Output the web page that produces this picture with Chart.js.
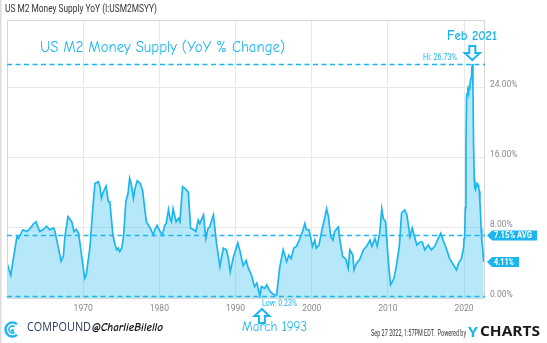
<!DOCTYPE html>
<html>
<head>
<meta charset="utf-8">
<script src="https://cdn.jsdelivr.net/npm/chart.js@4.4.1/dist/chart.umd.min.js"></script>
<style>
html, body { margin: 0; padding: 0; background: #fff; }
#wrap { position: relative; width: 547px; height: 343px; }
</style>
</head>
<body>
<div id="wrap"><canvas id="c"></canvas></div>
<script>
// decimal year of each observation
const dates = [
    1960.0, 1960.5, 1960.8, 1961.3, 1961.5, 1961.8, 1962.1, 1962.6, 1963.0, 1963.5, 1963.8, 1964.3, 1964.8, 1965.2,
    1965.6, 1966.1, 1966.3, 1966.7, 1967.1, 1967.4, 1967.6, 1968.0, 1968.5, 1968.8, 1969.1, 1969.4, 1969.8,
    1970.2, 1970.4, 1970.9, 1971.25, 1971.55, 1972.0, 1972.2, 1972.4, 1972.6, 1973.0, 1973.3, 1973.5, 1973.9, 1974.2,
    1974.4, 1974.6, 1974.8, 1975.05, 1975.3, 1975.6, 1975.9, 1976.1, 1976.3, 1976.6, 1976.8, 1977.1, 1977.5, 1977.8,
    1978.1, 1978.3, 1978.8, 1979.2, 1979.4, 1979.7,
    1980.1, 1980.4, 1980.7, 1980.9, 1981.2, 1981.4, 1981.6, 1981.8, 1982.2, 1982.5, 1982.7, 1983.05, 1983.4, 1983.8,
    1984.1, 1984.5, 1984.8, 1985.1, 1985.3, 1985.8, 1986.1, 1986.4, 1986.6, 1987.1, 1987.5, 1987.95, 1988.4, 1988.8,
    1989.05, 1989.3, 1989.7,
    1990.3, 1990.6, 1991.0, 1991.4, 1991.7, 1992.1, 1992.5, 1992.8, 1993.2, 1993.4, 1993.85, 1994.1, 1994.4, 1994.7,
    1995.0, 1995.4, 1995.6, 1995.8, 1996.25, 1996.4, 1996.7, 1997.0, 1997.3, 1997.65, 1998.0, 1998.45, 1998.8, 1999.1,
    1999.3, 1999.65,
    2000.1, 2000.4, 2000.6, 2000.95, 2001.3, 2001.7, 2001.95, 2002.2, 2002.5, 2002.8, 2003.0, 2003.5, 2003.7, 2004.05,
    2004.5, 2004.8, 2005.0, 2005.4, 2005.55, 2005.9, 2006.3, 2006.8, 2007.2, 2007.65, 2007.9, 2008.3, 2008.6, 2008.95,
    2009.2, 2009.4, 2009.7,
    2010.05, 2010.35, 2010.8, 2011.1, 2011.5, 2011.8, 2012.2, 2012.5, 2012.9, 2013.2, 2013.5, 2013.8, 2014.2, 2014.5,
    2014.85, 2015.3, 2015.7, 2016.15, 2016.6, 2016.95, 2017.25, 2017.7, 2018.1, 2018.6, 2019.0, 2019.3, 2019.65, 2019.95,
    2020.0, 2020.083, 2020.167, 2020.25, 2020.333, 2020.417, 2020.5, 2020.583, 2020.667, 2020.75, 2020.833, 2020.917,
    2021.0, 2021.083, 2021.167, 2021.25, 2021.333, 2021.417, 2021.5, 2021.583, 2021.667, 2021.75, 2021.833, 2021.917,
    2022.0, 2022.083, 2022.167, 2022.25, 2022.333, 2022.417, 2022.5, 2022.583,
];
// M2 year over year change, %
const yoy = [
    4.0, 2.6, 4.3, 7.0, 6.8, 7.3, 7.8, 7.6, 7.9, 8.5, 8.7, 7.6, 7.85, 8.2,
    7.8, 8.0, 7.6, 5.9, 4.2, 4.8, 7.0, 9.3, 8.7, 7.6, 7.85, 7.4, 4.8,
    2.25, 2.6, 5.9, 10.1, 13.1, 13.3, 12.7, 11.4, 12.0, 12.8, 11.0, 11.0, 7.2, 6.05,
    5.5, 5.7, 5.3, 5.7, 7.0, 11.0, 12.0, 13.7, 13.1, 11.4, 12.5, 13.4, 13.1, 12.3,
    10.1, 8.7, 8.0, 7.2, 7.8, 8.3,
    7.6, 7.2, 8.3, 8.5, 10.1, 9.1, 8.7, 10.2, 8.7, 9.1, 8.7, 12.7, 12.5, 12.1,
    8.0, 7.8, 7.6, 8.9, 8.5, 9.5, 6.8, 8.0, 8.1, 9.5, 6.3, 3.6, 5.7, 5.5,
    4.6, 3.0, 4.6,
    6.3, 5.3, 3.7, 4.3, 3.35, 2.6, 1.3, 1.7, 0.23, 1.3, 1.1, 1.5, 0.95, 0.6,
    0.4, 0.35, 1.9, 3.5, 5.5, 5.1, 4.15, 4.9, 4.5, 5.7, 5.9, 6.8, 7.6, 8.5,
    7.8, 7.8,
    5.9, 6.6, 5.7, 6.05, 7.6, 9.1, 10.2, 9.3, 7.0, 6.6, 7.6, 8.1, 6.6, 4.8,
    4.4, 3.4, 5.5, 4.9, 3.2, 4.0, 4.4, 5.5, 5.9, 6.6, 5.9, 6.8, 5.9, 7.6,
    10.2, 9.1, 8.7,
    4.3, 1.5, 2.25, 3.6, 5.9, 9.7, 10.06, 9.5, 7.0, 8.0, 7.0, 6.05, 6.4, 6.4,
    5.5, 6.05, 5.5, 5.9, 6.8, 7.4, 6.6, 5.6, 4.5, 3.8, 3.2, 4.0, 4.5, 5.8,
    6.8, 7.0, 10.3, 17.4, 23.1, 23.4, 23.6, 23.3, 24.1, 24.0, 24.8, 25.2,
    26.0, 26.73, 24.3, 17.5, 13.6, 12.6, 12.4, 12.8, 13.1, 13.1, 12.9, 12.6,
    12.2, 11.0, 9.6, 7.9, 6.4, 5.9, 5.1, 4.11,
];
const yTicks = [0, 8, 16, 24];
const xTicks = [1970, 1980, 1990, 2000, 2010, 2020];

const hiValue = 26.73, hiDate = 2021.083;
const lowValue = 0.23, lowDate = 1993.2;
const avgValue = 7.15;
const lastValue = yoy[yoy.length - 1];

const cyan = '#1cb6ee';
const hand = '"Comic Sans MS", "Comic Neue", "Open Sans", sans-serif';

function fitText(ctx, text, x, y, w, font, color) {
    ctx.save();
    ctx.font = font;
    ctx.fillStyle = color;
    ctx.textBaseline = 'middle';
    ctx.textAlign = 'left';
    const m = ctx.measureText(text).width;
    ctx.translate(x, y);
    ctx.scale(w / m, 1);
    ctx.fillText(text, 0, 0);
    ctx.restore();
}

function tag(ctx, x, y, w, h, text, textW) {
    ctx.save();
    ctx.fillStyle = cyan;
    ctx.beginPath();
    ctx.moveTo(x, y);
    ctx.lineTo(x + 5, y - h / 2);
    ctx.lineTo(x + w, y - h / 2);
    ctx.lineTo(x + w, y + h / 2);
    ctx.lineTo(x + 5, y + h / 2);
    ctx.closePath();
    ctx.fill();
    ctx.restore();
    fitText(ctx, text, x + 7, y + 0.5, textW, 'bold 8.5px Roboto', '#fff');
}

// outlined arrow, dir 1 points down, -1 points up
function arrow(ctx, cx, tip, dir) {
    const hh = 7, hw = 7.5, sh = 7, sw = 3;
    const b = tip - dir * hh;
    ctx.save();
    ctx.beginPath();
    ctx.moveTo(cx, tip);
    ctx.lineTo(cx - hw, b);
    ctx.lineTo(cx - sw, b);
    ctx.lineTo(cx - sw, b - dir * sh);
    ctx.lineTo(cx + sw, b - dir * sh);
    ctx.lineTo(cx + sw, b);
    ctx.lineTo(cx + hw, b);
    ctx.closePath();
    ctx.fillStyle = '#fff';
    ctx.fill();
    ctx.strokeStyle = cyan;
    ctx.lineWidth = 2;
    ctx.stroke();
    ctx.restore();
}

const overlay = {
    id: 'overlay',
    beforeDraw(chart) {
        const ctx = chart.ctx;
        ctx.save();
        ctx.fillStyle = '#fff';
        ctx.fillRect(0, 0, chart.width, chart.height);
        ctx.fillStyle = '#dcdcdc';
        ctx.fillRect(0, 0, 1.5, chart.height);
        ctx.restore();
    },
    afterDatasetsDraw(chart) {
        const { ctx, chartArea: a, scales: { x, y } } = chart;
        ctx.save();
        ctx.strokeStyle = '#d6d6d6';
        ctx.lineWidth = 1;
        ctx.strokeRect(a.left + 0.5, a.top + 0.5, a.right - a.left - 1, a.bottom - a.top);
        ctx.strokeStyle = cyan;
        ctx.lineWidth = 1.5;
        ctx.setLineDash([5, 3.5]);
        [hiValue, avgValue, lowValue].forEach(v => {
            const py = Math.round(y.getPixelForValue(v)) + 0.5;
            ctx.beginPath();
            ctx.moveTo(a.left, py);
            ctx.lineTo(a.right, py);
            ctx.stroke();
        });
        ctx.restore();

        tag(ctx, a.right + 2, y.getPixelForValue(avgValue), 50, 10, avgValue.toFixed(2) + '% AVG', 38);
        tag(ctx, a.right + 2, y.getPixelForValue(lastValue), 32, 10, lastValue.toFixed(2) + '%', 20);

        const hx = x.getPixelForValue(hiDate), hy = y.getPixelForValue(hiValue);
        arrow(ctx, hx, hy - 4, 1);
        const lx = x.getPixelForValue(lowDate), ly = y.getPixelForValue(lowValue);
        arrow(ctx, lx + 2, ly + 13, -1);
    },
    afterDraw(chart) {
        const ctx = chart.ctx;
        const y = chart.scales.y;
        fitText(ctx, 'US M2 Money Supply YoY (I:USM2MSYY)', 5, 9.5, 152, '10.5px Roboto', '#333');
        fitText(ctx, 'US M2 Money Supply (YoY % Change)', 40, 48, 245, '15px ' + hand, cyan);
        fitText(ctx, 'Feb 2021', 447, 36, 50, 'bold 13px ' + hand, cyan);
        fitText(ctx, 'Hi: ' + hiValue.toFixed(2) + '%', 423, y.getPixelForValue(hiValue) - 6.5, 34, '8.5px Roboto', cyan);
        fitText(ctx, 'Low: ' + lowValue.toFixed(2) + '%', 262, 304, 35, '8.5px Roboto', cyan);
        fitText(ctx, 'March 1993', 242, 327, 65, '13px ' + hand, cyan);

        // Compound logo
        ctx.save();
        ctx.strokeStyle = cyan;
        ctx.lineWidth = 2.4;
        ctx.beginPath();
        ctx.arc(12.5, 329.5, 7, 0.28 * Math.PI, 1.72 * Math.PI);
        ctx.stroke();
        ctx.lineWidth = 1.6;
        ctx.beginPath();
        ctx.arc(12.5, 329.5, 3.6, 0.3 * Math.PI, 1.7 * Math.PI);
        ctx.stroke();
        ctx.fillStyle = cyan;
        ctx.beginPath();
        ctx.arc(12.5, 330.5, 1.6, 0, 2 * Math.PI);
        ctx.fill();
        ctx.restore();
        fitText(ctx, 'COMPOUND', 27, 327.5, 64, '12.5px "Open Sans"', '#2b3a5c');
        fitText(ctx, '@CharlieBilello', 92, 328, 71, 'italic bold 12px ' + hand, '#111');

        fitText(ctx, 'Sep 27 2022, 1:57PM EDT.  Powered by', 371, 334, 95, '8.5px Roboto', '#333');
        fitText(ctx, 'Y', 468, 332.5, 10, 'bold 15px "Open Sans"', cyan);
        fitText(ctx, 'CHARTS', 480, 332.5, 60, 'bold 14px "Open Sans"', '#1a1a1a');
    },
};

new Chart(document.getElementById('c'), {
    type: 'line',
    data: {
        datasets: [{
            data: dates.map((d, i) => ({ x: d, y: yoy[i] })),
            borderColor: cyan,
            borderWidth: 1.7,
            backgroundColor: 'rgba(28,182,238,0.32)',
            fill: 'origin',
            pointRadius: 0,
            tension: 0,
        }],
    },
    options: {
        responsive: true,
        maintainAspectRatio: false,
        animation: false,
        layout: { padding: { left: 7, top: 20, right: 0, bottom: 0 } },
        plugins: {
            legend: { display: false },
            tooltip: { enabled: false },
        },
        scales: {
            x: {
                type: 'linear',
                min: 1960,
                max: 2022.75,
                afterFit: s => { s.height = 45; },
                afterBuildTicks: s => { s.ticks = xTicks.map(v => ({ value: v })); },
                grid: { color: '#e8e8e8', drawTicks: false },
                border: { display: false },
                ticks: {
                    padding: 6, color: '#888', font: { family: 'Roboto', size: 8.5 },
                    callback: v => String(v), maxRotation: 0, autoSkip: false,
                },
            },
            y: {
                position: 'right',
                min: 0,
                max: 31.77,
                afterFit: s => { s.width = 62; },
                afterBuildTicks: s => { s.ticks = yTicks.map(v => ({ value: v })); },
                grid: { color: '#e8e8e8', drawTicks: false },
                border: { display: false },
                ticks: {
                    padding: 5, labelOffset: -3, color: '#888', font: { family: 'Roboto', size: 8.5 },
                    callback: v => v.toFixed(2) + '%',
                },
            },
        },
    },
    plugins: [overlay],
});
</script>
</body>
</html>
